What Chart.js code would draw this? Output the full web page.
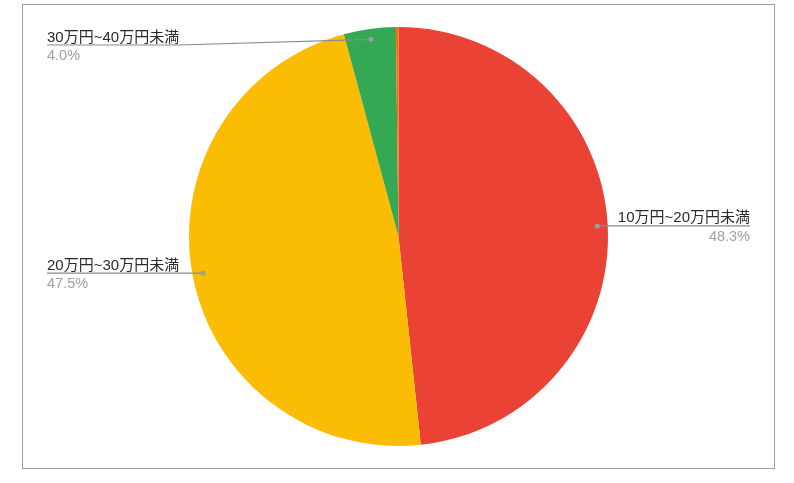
<!DOCTYPE html>
<html lang="ja">
<head>
<meta charset="UTF-8">
<title>Pie</title>
<script src="https://cdn.jsdelivr.net/npm/chart.js@4.4.1/dist/chart.umd.min.js"></script>
<style>
  body { margin: 0; background: #fff; }
  .frame {
    position: absolute; left: 22px; top: 4px;
    width: 751px; height: 463px;
    border: 1px solid #9e9e9e;
  }
</style>
</head>
<body>
<div class="frame"><canvas id="pie"></canvas></div>
<script>
// data
const categories = ['10万円~20万円未満', '20万円~30万円未満', '30万円~40万円未満', '40万円以上'];
const shares = [48.3, 47.5, 4.0, 0.2];
const sliceColors = ['#EA4335', '#FBBC04', '#34A853', '#FF6D01'];

const labelFont = '15px Arial, "Liberation Sans", "Noto Sans CJK JP", sans-serif';
const pctFont = '14.5px Arial, "Liberation Sans", "Noto Sans CJK JP", sans-serif';

// google-style leader labels
const leaderLabels = {
  id: 'leaderLabels',
  afterDatasetsDraw(chart) {
    const ctx = chart.ctx;
    const meta = chart.getDatasetMeta(0);
    const total = shares.reduce((a, b) => a + b, 0);
    const w = chart.width;
    ctx.save();
    meta.data.forEach((arc, i) => {
      const pct = shares[i] / total * 100;
      if (pct < 1) return;
      const mid = (arc.startAngle + arc.endAngle) / 2;
      const r = arc.outerRadius * 0.95;
      const px = arc.x + Math.cos(mid) * r;
      const py = arc.y + Math.sin(mid) * r;
      const right = Math.cos(mid) > 0;
      const lineY = Math.max(py, 40);

      ctx.font = labelFont;
      const tw = ctx.measureText(categories[i]).width;
      const x0 = right ? w - 24 - tw : 24;
      const x1 = x0 + tw;

      // leader line
      ctx.strokeStyle = '#8a8a8a';
      ctx.lineWidth = 1.2;
      ctx.beginPath();
      if (right) {
        ctx.moveTo(x1, lineY);
        ctx.lineTo(x0, lineY);
        ctx.lineTo(px, py);
      } else {
        ctx.moveTo(x0, lineY);
        ctx.lineTo(x1, lineY);
        ctx.lineTo(px, py);
      }
      ctx.stroke();

      ctx.fillStyle = '#9e9e9e';
      ctx.beginPath();
      ctx.arc(px, py, 2.5, 0, Math.PI * 2);
      ctx.fill();

      ctx.textBaseline = 'alphabetic';
      ctx.textAlign = 'left';
      ctx.fillStyle = '#2a2a2a';
      ctx.fillText(categories[i], x0, lineY - 3.5);

      ctx.font = pctFont;
      ctx.fillStyle = '#a0a0a0';
      ctx.textAlign = right ? 'right' : 'left';
      ctx.fillText(pct.toFixed(1) + '%', right ? x1 : x0, lineY + 15);
    });
    ctx.restore();
  }
};

new Chart(document.getElementById('pie'), {
  type: 'pie',
  data: {
    labels: categories,
    datasets: [{
      data: shares,
      backgroundColor: sliceColors,
      borderWidth: 0
    }]
  },
  options: {
    responsive: true,
    maintainAspectRatio: false,
    animation: false,
    layout: { padding: 22 },
    plugins: {
      legend: { display: false },
      tooltip: { enabled: false }
    }
  },
  plugins: [leaderLabels]
});
</script>
</body>
</html>
